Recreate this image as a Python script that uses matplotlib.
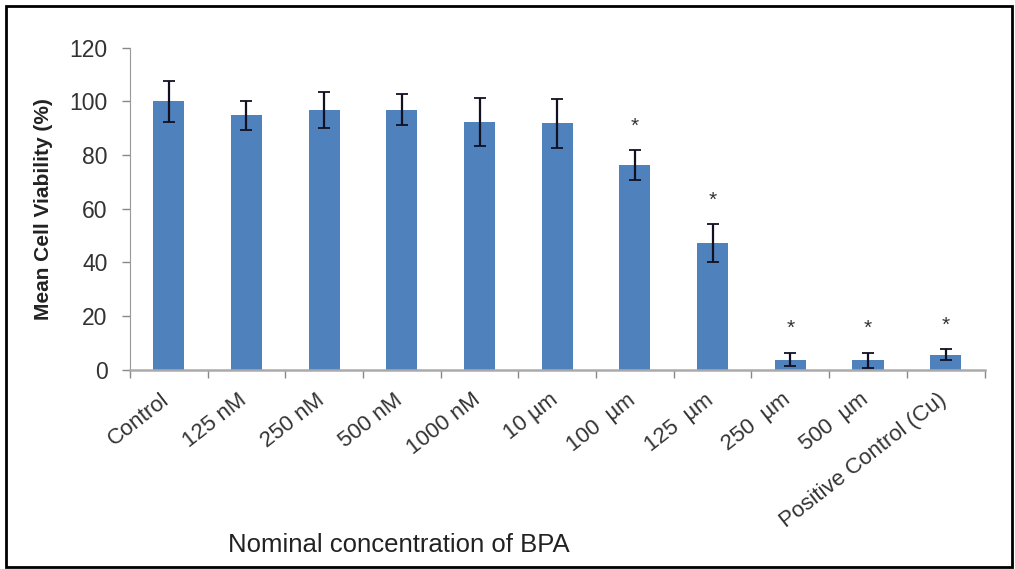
import numpy as np
import matplotlib.pyplot as plt
from matplotlib.patches import Rectangle
from matplotlib.transforms import ScaledTranslation

plt.rcParams['font.family'] = ['Liberation Sans', 'DejaVu Sans']

categories = ['Control', '125 nM', '250 nM', '500 nM', '1000 nM', '10 \u00b5m',
              '100  \u00b5m', '125  \u00b5m', '250  \u00b5m', '500  \u00b5m',
              'Positive Control (Cu)']
viability = [100.0, 94.8, 97.0, 97.0, 92.4, 91.8, 76.2, 47.3, 3.8, 3.5, 5.6]
sem = [7.6, 5.4, 6.7, 5.6, 9.0, 9.0, 5.6, 7.0, 2.5, 2.8, 2.0]
significant = [False, False, False, False, False, False, True, True, True, True, True]

fig = plt.figure(figsize=(10.15, 5.69), dpi=100)
ax = fig.add_axes([0.128, 0.350, 0.842, 0.566])

x = np.arange(len(categories))
ax.bar(x, viability, width=0.4, color='#4F81BD', zorder=2)
ax.errorbar(x, viability, yerr=sem, fmt='none', ecolor='#111122',
            elinewidth=1.6, capsize=4.5, capthick=1.3, zorder=3)

for xi, v, e, s in zip(x, viability, sem, significant):
    if s:
        ax.text(xi, v + e + 9, '*', ha='center', va='center',
                fontsize=15, color='#333333')

ax.set_xlim(-0.5, len(categories) - 0.5)
ax.set_ylim(0, 120)
ax.set_yticks(np.arange(0, 121, 20))
ax.tick_params(axis='y', labelsize=16.5, colors='#888888', labelcolor='#333333',
               length=6, width=1, pad=10)

# excel style: ticks between categories
ax.set_xticks(np.arange(-0.5, len(categories), 1.0))
ax.set_xticklabels([])
ax.tick_params(axis='x', which='major', colors='#888888', length=6, width=1)
ax.set_xticks(x, minor=True)
ax.set_xticklabels(categories, minor=True, rotation=38, ha='right',
                   rotation_mode='anchor', fontsize=16, color='#333333')
ax.tick_params(axis='x', which='minor', length=0, pad=14)
shift = ScaledTranslation(-6 / 72, 0, fig.dpi_scale_trans)
for lbl in ax.get_xticklabels(minor=True):
    lbl.set_transform(lbl.get_transform() + shift)

for side in ['top', 'right']:
    ax.spines[side].set_visible(False)
ax.spines['left'].set_color('#999999')
ax.spines['bottom'].set_color('#aaaaaa')
ax.spines['bottom'].set_linewidth(1.8)

ax.set_ylabel('Mean Cell Viability (%)', fontsize=15, fontweight='bold',
              color='#222222')
ax.yaxis.set_label_coords(-0.090, 0.5)

fig.text(0.225, 0.043, 'Nominal concentration of BPA', fontsize=18.5,
         color='#222222', ha='left', va='center')

# frame around the figure
fig.patches.append(Rectangle((0.006, 0.004), 0.991, 0.986,
                             transform=fig.transFigure, fill=False,
                             edgecolor='black', linewidth=2))

fig.savefig('out.png', dpi=100)
